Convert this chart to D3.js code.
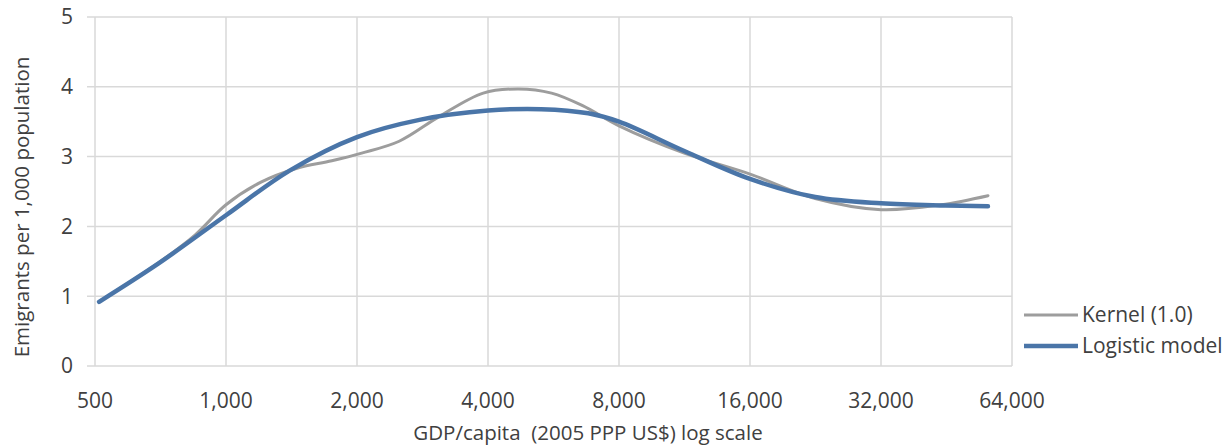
<!DOCTYPE html>
<html>
<head>
<meta charset="utf-8">
<script src="https://cdn.jsdelivr.net/npm/d3@7"></script>
<style>
  html, body { margin: 0; padding: 0; background: #fff; }
  svg { display: block; }
  text { font-family: "Open Sans", "DejaVu Sans", sans-serif; fill: #404040; }
</style>
</head>
<body>
<svg id="chart" width="1231" height="448"></svg>
<script>
// Kernel estimate (bandwidth 1.0): GDP per capita and emigrants per 1,000 population
const kernelGdp = [511, 700, 850, 1000, 1200, 1450, 1750, 2050, 2500, 3100, 3900, 4700,
                   5600, 6600, 8000, 11300, 16000, 22600, 32000, 44000, 56360];
const kernelVal = [0.92, 1.48, 1.88, 2.31, 2.63, 2.83, 2.94, 3.05, 3.22, 3.58, 3.91, 3.97,
                   3.91, 3.73, 3.44, 3.05, 2.75, 2.40, 2.24, 2.31, 2.44];

// Logistic model fit
const logisticGdp = [511, 700, 1000, 1400, 2000, 2800, 4000, 5300, 6800, 8000, 11300,
                     16000, 22600, 32000, 45000, 56360];
const logisticVal = [0.92, 1.47, 2.16, 2.80, 3.28, 3.53, 3.66, 3.68, 3.62, 3.50, 3.08,
                     2.68, 2.42, 2.33, 2.30, 2.29];

const xTicks = [500, 1000, 2000, 4000, 8000, 16000, 32000, 64000];
const yTicks = [0, 1, 2, 3, 4, 5];

const seriesNames = ["Kernel (1.0)", "Logistic model"];
const seriesColors = ["#9d9d9d", "#4a75a8"];
const seriesWidths = [3, 4.5];

const svg = d3.select("#chart");

const x = d3.scaleLog().base(2).domain([500, 64000]).range([95, 1012]);
const y = d3.scaleLinear().domain([0, 5]).range([366, 17]);

// Gridlines
const grid = svg.append("g").attr("stroke", "#d9d9d9").attr("stroke-width", 1.5);
grid.selectAll("line.h").data(yTicks).join("line")
  .attr("class", "h")
  .attr("x1", 87).attr("x2", x.range()[1])
  .attr("y1", d => y(d)).attr("y2", d => y(d));
grid.selectAll("line.v").data(xTicks).join("line")
  .attr("class", "v")
  .attr("x1", d => x(d)).attr("x2", d => x(d))
  .attr("y1", y(5)).attr("y2", y(0));

// Axis labels
const fmt = d3.format(",");
svg.append("g").selectAll("text").data(xTicks).join("text")
  .attr("x", d => x(d)).attr("y", 408)
  .attr("text-anchor", "middle")
  .style("font-size", "21px")
  .text(d => fmt(d));

svg.append("g").selectAll("text").data(yTicks).join("text")
  .attr("x", 73).attr("y", d => y(d))
  .attr("dy", "0.35em")
  .attr("text-anchor", "end")
  .style("font-size", "21px")
  .text(d => d);

svg.append("text")
  .attr("x", 588).attr("y", 440)
  .attr("text-anchor", "middle")
  .style("font-size", "20.5px")
  .style("white-space", "pre")
  .text("GDP/capita  (2005 PPP US$) log scale");

svg.append("text")
  .attr("transform", "translate(29,207) rotate(-90)")
  .attr("text-anchor", "middle")
  .style("font-size", "20.5px")
  .text("Emigrants per 1,000 population");

// Series lines
const line = d3.line()
  .x(d => x(d[0]))
  .y(d => y(d[1]))
  .curve(d3.curveCatmullRom.alpha(0.5));

[[kernelGdp, kernelVal], [logisticGdp, logisticVal]].forEach(([gx, gv], i) => {
  svg.append("path")
    .datum(gx.map((g, j) => [g, gv[j]]))
    .attr("fill", "none")
    .attr("stroke", seriesColors[i])
    .attr("stroke-width", seriesWidths[i])
    .attr("stroke-linecap", "round")
    .attr("stroke-linejoin", "round")
    .attr("d", line);
});

// Legend
const legend = svg.append("g");
seriesNames.forEach((name, i) => {
  const ly = 315 + i * 31;
  legend.append("line")
    .attr("x1", 1024).attr("x2", 1078)
    .attr("y1", ly).attr("y2", ly)
    .attr("stroke", seriesColors[i])
    .attr("stroke-width", seriesWidths[i]);
  legend.append("text")
    .attr("x", 1082).attr("y", ly)
    .attr("dy", "0.35em")
    .style("font-size", "21px")
    .text(name);
});
</script>
</body>
</html>
